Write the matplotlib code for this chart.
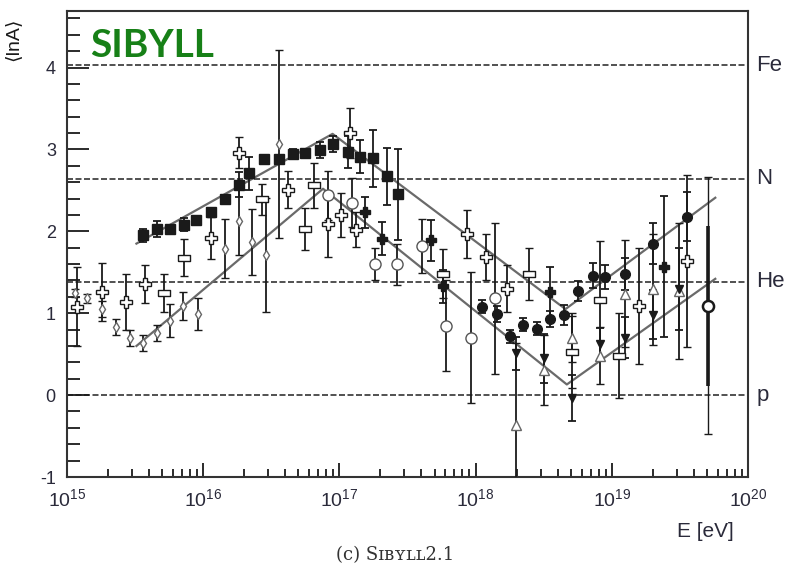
import matplotlib.pyplot as plt
import numpy as np
from matplotlib.ticker import FixedLocator, MultipleLocator, NullFormatter
from matplotlib.transforms import blended_transform_factory

plt.rcParams['font.family'] = ['Liberation Sans', 'DejaVu Sans']
plt.rcParams['mathtext.fontset'] = 'custom'
plt.rcParams['mathtext.rm'] = 'Liberation Sans'
plt.rcParams['axes.unicode_minus'] = False

# <lnA> vs log10(E/eV), one group per marker type
sq_lgE = [15.56, 15.66, 15.76, 15.86, 15.95, 16.06, 16.16, 16.26, 16.34, 16.45,
          16.56, 16.66, 16.75, 16.86, 16.95, 17.06, 17.15, 17.25, 17.35, 17.43]
sq_lnA = [1.95, 2.03, 2.03, 2.08, 2.14, 2.23, 2.39, 2.57, 2.71, 2.88,
          2.88, 2.95, 2.96, 2.99, 3.07, 2.97, 2.91, 2.89, 2.67, 2.45]
sq_err = [0.08, 0.1, 0.05, 0.08, 0.05, 0.05, 0.05, 0.15, 0.2, 0.05,
          0.05, 0.05, 0.05, 0.1, 0.1, 0.2, 0.2, 0.35, 0.35, 0.55]

fc_lgE = [18.05, 18.16, 18.25, 18.35, 18.45, 18.55, 18.65, 18.75, 18.86, 18.95, 19.10, 19.30, 19.55]
fc_lnA = [1.08, 0.99, 0.72, 0.86, 0.81, 0.93, 0.98, 1.27, 1.46, 1.44, 1.48, 1.85, 2.18]
fc_err = [0.08, 0.1, 0.08, 0.08, 0.08, 0.1, 0.12, 0.12, 0.15, 0.15, 0.2, 0.25, 0.3]

oc_lgE = [16.92, 17.09, 17.26, 17.42, 17.61, 17.78, 17.97, 18.14]
oc_lnA = [2.44, 2.35, 1.60, 1.60, 1.82, 0.85, 0.70, 1.18]
oc_err = [0.3, 0.3, 0.2, 0.25, 0.33, 0.55, 0.8, 0.92]

cr_lgE = [15.07, 15.26, 15.43, 15.57, 16.06, 16.26, 16.62, 16.92,
          17.01, 17.08, 17.12, 17.94, 18.08, 18.23, 19.20, 19.55]
cr_lnA = [1.08, 1.26, 1.14, 1.36, 1.92, 2.96, 2.51, 2.09,
          2.20, 3.20, 2.02, 1.97, 1.69, 1.30, 1.09, 1.64]
cr_err = [0.48, 0.35, 0.34, 0.23, 0.26, 0.19, 0.23, 0.4,
          0.27, 0.3, 0.21, 0.29, 0.28, 0.29, 0.71, 1.05]

dm_lgE = [15.06, 15.15, 15.26, 15.36, 15.46, 15.56, 15.66, 15.76,
          15.85, 15.96, 16.16, 16.26, 16.36, 16.46, 16.56]
dm_lnA = [1.25, 1.18, 1.05, 0.83, 0.70, 0.64, 0.76, 0.91,
          1.09, 0.99, 1.79, 2.13, 1.87, 1.71, 3.07]
dm_err = [0.05, 0.05, 0.1, 0.1, 0.1, 0.1, 0.1, 0.2,
          0.17, 0.2, 0.36, 0.42, 0.4, 0.7, 1.15]

rc_lgE = [15.71, 15.86, 16.43, 16.75, 16.81, 17.76, 18.39, 18.71, 18.91, 19.05]
rc_lnA = [1.25, 1.68, 2.39, 2.03, 2.56, 1.48, 1.48, 0.53, 1.16, 0.48]
rc_err = [0.23, 0.23, 0.19, 0.26, 0.27, 0.3, 0.32, 0.44, 0.72, 0.52]

tu_lgE = [18.30, 18.50, 18.71, 18.91, 19.10, 19.30, 19.49]
tu_lnA = [-0.36, 0.31, 0.70, 0.48, 1.24, 1.29, 1.27]
tu_err = [1.0, 0.43, 0.3, 0.35, 0.65, 0.68, 0.83]

td_lgE = [18.30, 18.50, 18.71, 18.91, 19.10, 19.30, 19.49]
td_lnA = [0.51, 0.45, -0.04, 0.62, 0.70, 0.98, 1.30]
td_err = [0.2, 0.3, 0.28, 0.2, 0.25, 0.3, 0.5]

pf_lgE = [17.19, 17.31, 17.67, 17.76, 18.55, 19.38]
pf_lnA = [2.23, 1.91, 1.89, 1.33, 1.26, 1.57]
pf_err = [0.19, 0.2, 0.25, 0.2, 0.31, 0.86]

# highest-energy point: stat (thick) and syst (thin) errors
top_lgE, top_lnA, top_stat, top_sys = 19.71, 1.09, 0.98, 1.57

# broken-line fits
fit_hi_lgE = [15.51, 16.95, 18.66, 19.76]
fit_hi_lnA = [1.85, 3.19, 1.05, 2.41]
fit_lo_lgE = [15.51, 16.88, 18.67, 19.76]
fit_lo_lnA = [0.60, 2.52, 0.13, 1.42]

# reference nuclei
nuclei = ['p', 'He', 'N', 'Fe']
nuclei_lnA = [0.0, np.log(4), np.log(14), np.log(56)]

fig = plt.figure(figsize=(7.89, 5.71), dpi=100)
ax = fig.add_axes([0.0849, 0.1646, 0.8631, 0.8161])

for y in nuclei_lnA:
    ax.axhline(y, color='#333333', lw=1.2, ls=(0, (3.6, 1.5)), zorder=1)

ax.plot(10 ** np.array(fit_hi_lgE), fit_hi_lnA, color='#6a6a6a', lw=1.6, zorder=2)
ax.plot(10 ** np.array(fit_lo_lgE), fit_lo_lnA, color='#6a6a6a', lw=1.6, zorder=2)

flat_box = [(-1, -0.5), (1, -0.5), (1, 0.5), (-1, 0.5), (-1, -0.5)]
eb = dict(ecolor='#1a1a1a', elinewidth=1.3, capsize=3, capthick=1.3, ls='none', zorder=3)

ax.errorbar(10 ** np.array(dm_lgE), dm_lnA, yerr=dm_err, marker='d', ms=5,
            mfc='white', mec='#666666', mew=1.0, **eb)
ax.errorbar(10 ** np.array(sq_lgE), sq_lnA, yerr=sq_err, marker='s', ms=6.5,
            mfc='#1a1a1a', mec='#1a1a1a', **eb)
ax.errorbar(10 ** np.array(oc_lgE), oc_lnA, yerr=oc_err, marker='o', ms=8,
            mfc='white', mec='#555555', mew=1.0, **eb)
ax.errorbar(10 ** np.array(rc_lgE), rc_lnA, yerr=rc_err, marker=flat_box, ms=8,
            mfc='white', mec='#1a1a1a', mew=1.0, **eb)
ax.errorbar(10 ** np.array(cr_lgE), cr_lnA, yerr=cr_err, marker='P', ms=8,
            mfc='white', mec='#1a1a1a', mew=1.0, **eb)
ax.errorbar(10 ** np.array(pf_lgE), pf_lnA, yerr=pf_err, marker='P', ms=7,
            mfc='#1a1a1a', mec='#1a1a1a', **eb)
ax.errorbar(10 ** np.array(fc_lgE), fc_lnA, yerr=fc_err, marker='o', ms=7,
            mfc='#1a1a1a', mec='#1a1a1a', **eb)
ax.errorbar(10 ** np.array(tu_lgE), tu_lnA, yerr=tu_err, marker='^', ms=7,
            mfc='white', mec='#666666', mew=1.0, **eb)
ax.errorbar(10 ** np.array(td_lgE), td_lnA, yerr=td_err, marker='v', ms=6,
            mfc='#1a1a1a', mec='#1a1a1a', **eb)

ax.errorbar(10 ** top_lgE, top_lnA, yerr=top_sys, ls='none', ecolor='#1a1a1a',
            elinewidth=1.0, capsize=3, zorder=3)
ax.errorbar(10 ** top_lgE, top_lnA, yerr=top_stat, ls='none', marker='o', ms=8,
            mfc='white', mec='#1a1a1a', mew=1.8, ecolor='#1a1a1a',
            elinewidth=2.6, capsize=0, zorder=4)

ax.set_xscale('log')
ax.set_xlim(1e15, 1e20)
ax.set_ylim(-1, 4.69)

decades = [15, 16, 17, 18, 19, 20]
ax.xaxis.set_major_locator(FixedLocator([10.0 ** d for d in decades]))
ax.set_xticklabels([r'$10^{%d}$' % d for d in decades])
minor = [m * 10.0 ** d for d in decades[:-1] for m in range(2, 10)]
ax.xaxis.set_minor_locator(FixedLocator(minor))
ax.xaxis.set_minor_formatter(NullFormatter())
ax.yaxis.set_major_locator(MultipleLocator(1))
ax.yaxis.set_minor_locator(MultipleLocator(0.2))

ax.tick_params(axis='x', which='major', direction='in', length=10, width=1.3,
               labelsize=14, pad=8, colors='#1a1a1a', labelcolor='#2a2a3a')
ax.tick_params(axis='x', which='minor', direction='in', length=6, width=1.3, colors='#1a1a1a')
ax.tick_params(axis='y', which='major', direction='in', length=16, width=1.3,
               labelsize=13, pad=8, colors='#1a1a1a', labelcolor='#2a2a3a')
ax.tick_params(axis='y', which='minor', direction='in', length=9, width=1.3, colors='#1a1a1a')

for s in ax.spines.values():
    s.set_linewidth(1.5)
    s.set_color('#333333')

# nucleus names on the right edge
trans = blended_transform_factory(ax.transAxes, ax.transData)
for name, y in zip(nuclei, nuclei_lnA):
    ax.text(1.012, y, name, transform=trans, ha='left', va='center',
            fontsize=16, color='#2a2a3a')

ax.text(-0.079, 0.94, '⟨lnA⟩', transform=ax.transAxes, rotation=90,
        ha='center', va='center', fontsize=14, color='#1a1a1a')
ax.text(0.937, -0.116, 'E [eV]', transform=ax.transAxes, ha='center', va='center',
        fontsize=15, color='#2a2a3a')

ax.text(0.034, 0.925, 'SIBYLL', transform=ax.transAxes, ha='left', va='center',
        fontsize=28, fontweight='bold', color='#178017', family=['Lato', 'DejaVu Sans'])

fig.text(0.5006, 0.028, '(c) Sɪʙʏʟʟ2.1', ha='center', va='center', fontsize=13,
         color='#333333', family=['DejaVu Serif'])

fig.savefig('out.png', dpi=100)
